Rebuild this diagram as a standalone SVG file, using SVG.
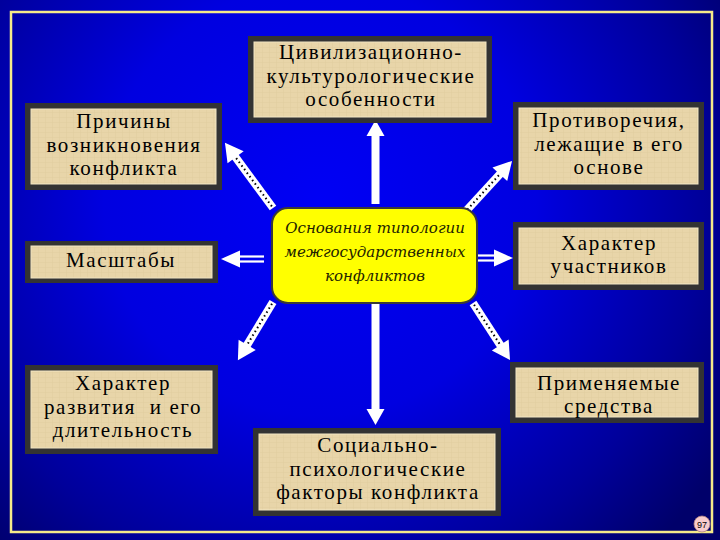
<svg xmlns="http://www.w3.org/2000/svg" width="720" height="540" viewBox="0 0 720 540">
  <defs>
    <radialGradient id="bg" cx="320" cy="200" r="480" gradientUnits="userSpaceOnUse">
      <stop offset="0" stop-color="#0000f5"/>
      <stop offset="0.45" stop-color="#0000e0"/>
      <stop offset="0.8" stop-color="#00009a"/>
      <stop offset="1" stop-color="#00006a"/>
    </radialGradient>
    <pattern id="paper" width="7" height="5" patternUnits="userSpaceOnUse">
      <rect width="7" height="5" fill="#e8d5a9"/>
      <path d="M0 2.5H7M3.5 0V5" stroke="#e0cc9e" stroke-width="0.5"/>
    </pattern>
    <style>
      .frame{fill:#333333}
      .paper{fill:url(#paper);stroke:#f2e6c4;stroke-width:1}
      .t{font-family:"Liberation Serif","Times New Roman",serif;font-size:21px;letter-spacing:1.6px;fill:#000;text-anchor:middle}
      .c{font-family:"DejaVu Serif","Liberation Serif",serif;font-style:italic;font-size:15px;fill:#222200;text-anchor:middle}
      .w{fill:#ffffff}
      .dots{stroke:#000;stroke-width:2;stroke-dasharray:1.5 3;fill:none}
      .dbl{stroke:#ffffff;stroke-width:2.2;fill:none}
    </style>
  </defs>

  <rect width="720" height="540" fill="url(#bg)"/>
  <rect x="11" y="12" width="701" height="520" fill="none" stroke="#f5ea8a" stroke-width="2.5"/>

  <g id="connectors">
    <!-- up -->
    <rect class="w" x="371.5" y="134" width="8" height="70"/>
    <polygon class="w" points="366.5,136 375.5,120 384.5,136"/>
    <!-- down -->
    <rect class="w" x="371.5" y="303" width="8" height="108"/>
    <polygon class="w" points="366.5,409 375.5,425 384.5,409"/>
    <!-- left double -->
    <line class="dbl" x1="238" y1="256.5" x2="264" y2="256.5"/>
    <line class="dbl" x1="238" y1="261.5" x2="264" y2="261.5"/>
    <polygon class="w" points="240,250.5 221,259 240,267.5"/>
    <!-- right double -->
    <line class="dbl" x1="478" y1="255.5" x2="496" y2="255.5"/>
    <line class="dbl" x1="478" y1="260.5" x2="496" y2="260.5"/>
    <polygon class="w" points="494,249.5 513,258 494,266.5"/>
    <!-- diagonal arrows -->
    <g transform="translate(273,208) rotate(-126.4)">
      <rect class="w" x="0" y="-4" width="66" height="8"/>
      <polygon class="w" points="63,-10 81,0 63,10"/>
      <line class="dots" x1="2" y1="0" x2="62" y2="0"/>
    </g>
    <g transform="translate(466,211) rotate(-47.4)">
      <rect class="w" x="0" y="-4" width="53" height="8"/>
      <polygon class="w" points="50,-10 68,0 50,10"/>
      <line class="dots" x1="2" y1="0" x2="49" y2="0"/>
    </g>
    <g transform="translate(273,302) rotate(121.1)">
      <rect class="w" x="0" y="-4" width="53" height="8"/>
      <polygon class="w" points="50,-10 68,0 50,10"/>
      <line class="dots" x1="2" y1="0" x2="49" y2="0"/>
    </g>
    <g transform="translate(473,303) rotate(57)">
      <rect class="w" x="0" y="-4" width="53" height="8"/>
      <polygon class="w" points="50,-10 68,0 50,10"/>
      <line class="dots" x1="2" y1="0" x2="49" y2="0"/>
    </g>
  </g>

  <g id="center">
    <rect x="272" y="208" width="205" height="95" rx="16" fill="#ffff00" stroke="#3a3a3a" stroke-width="2"/>
    <text class="c" x="375" y="233">Основания типологии</text>
    <text class="c" x="375" y="257">межгосударственных</text>
    <text class="c" x="375" y="281">конфликтов</text>
  </g>

  <g id="n-prichiny">
    <rect class="frame" x="25" y="103" width="197" height="87"/>
    <rect class="paper" x="31" y="109" width="185" height="75"/>
    <text class="t" x="124" y="128">Причины</text>
    <text class="t" x="124" y="151.5">возникновения</text>
    <text class="t" x="124" y="175">конфликта</text>
  </g>

  <g id="n-civil">
    <rect class="frame" x="248" y="36" width="244" height="87"/>
    <rect class="paper" x="254" y="42" width="232" height="75"/>
    <text class="t" x="371" y="59">Цивилизационно-</text>
    <text class="t" x="371" y="82.5">культурологические</text>
    <text class="t" x="371" y="106">особенности</text>
  </g>

  <g id="n-protiv">
    <rect class="frame" x="513" y="102" width="191" height="88"/>
    <rect class="paper" x="519" y="108" width="179" height="76"/>
    <text class="t" x="609" y="127">Противоречия,</text>
    <text class="t" x="609" y="150.5">лежащие в его</text>
    <text class="t" x="609" y="174">основе</text>
  </g>

  <g id="n-masshtaby">
    <rect class="frame" x="25" y="241" width="193" height="42"/>
    <rect class="paper" x="31" y="246" width="181" height="32"/>
    <text class="t" x="121" y="267">Масштабы</text>
  </g>

  <g id="n-uchastniki">
    <rect class="frame" x="513" y="222" width="191" height="68"/>
    <rect class="paper" x="519" y="228" width="179" height="56"/>
    <text class="t" x="609" y="249.5">Характер</text>
    <text class="t" x="609" y="273">участников</text>
  </g>

  <g id="n-razvitie">
    <rect class="frame" x="25" y="365" width="193" height="89"/>
    <rect class="paper" x="31" y="371" width="181" height="77"/>
    <text class="t" x="123" y="390">Характер</text>
    <text class="t" x="123" y="413.5" xml:space="preserve">развития  и его</text>
    <text class="t" x="123" y="437">длительность</text>
  </g>

  <g id="n-sredstva">
    <rect class="frame" x="510" y="362" width="194" height="61"/>
    <rect class="paper" x="516" y="368" width="182" height="49"/>
    <text class="t" x="609" y="389.5">Применяемые</text>
    <text class="t" x="609" y="413">средства</text>
  </g>

  <g id="n-social">
    <rect class="frame" x="253" y="428" width="248" height="88"/>
    <rect class="paper" x="259" y="434" width="236" height="76"/>
    <text class="t" x="378" y="452">Социально-</text>
    <text class="t" x="378" y="475.5">психологические</text>
    <text class="t" x="378" y="499">факторы конфликта</text>
  </g>

  <g id="pagenum">
    <circle cx="702" cy="524" r="8" fill="#f7cccc" stroke="#b08080" stroke-width="0.8"/>
    <text x="702" y="527.5" font-family="Liberation Sans, Arial, sans-serif" font-size="9" text-anchor="middle" fill="#000">97</text>
  </g>
</svg>
